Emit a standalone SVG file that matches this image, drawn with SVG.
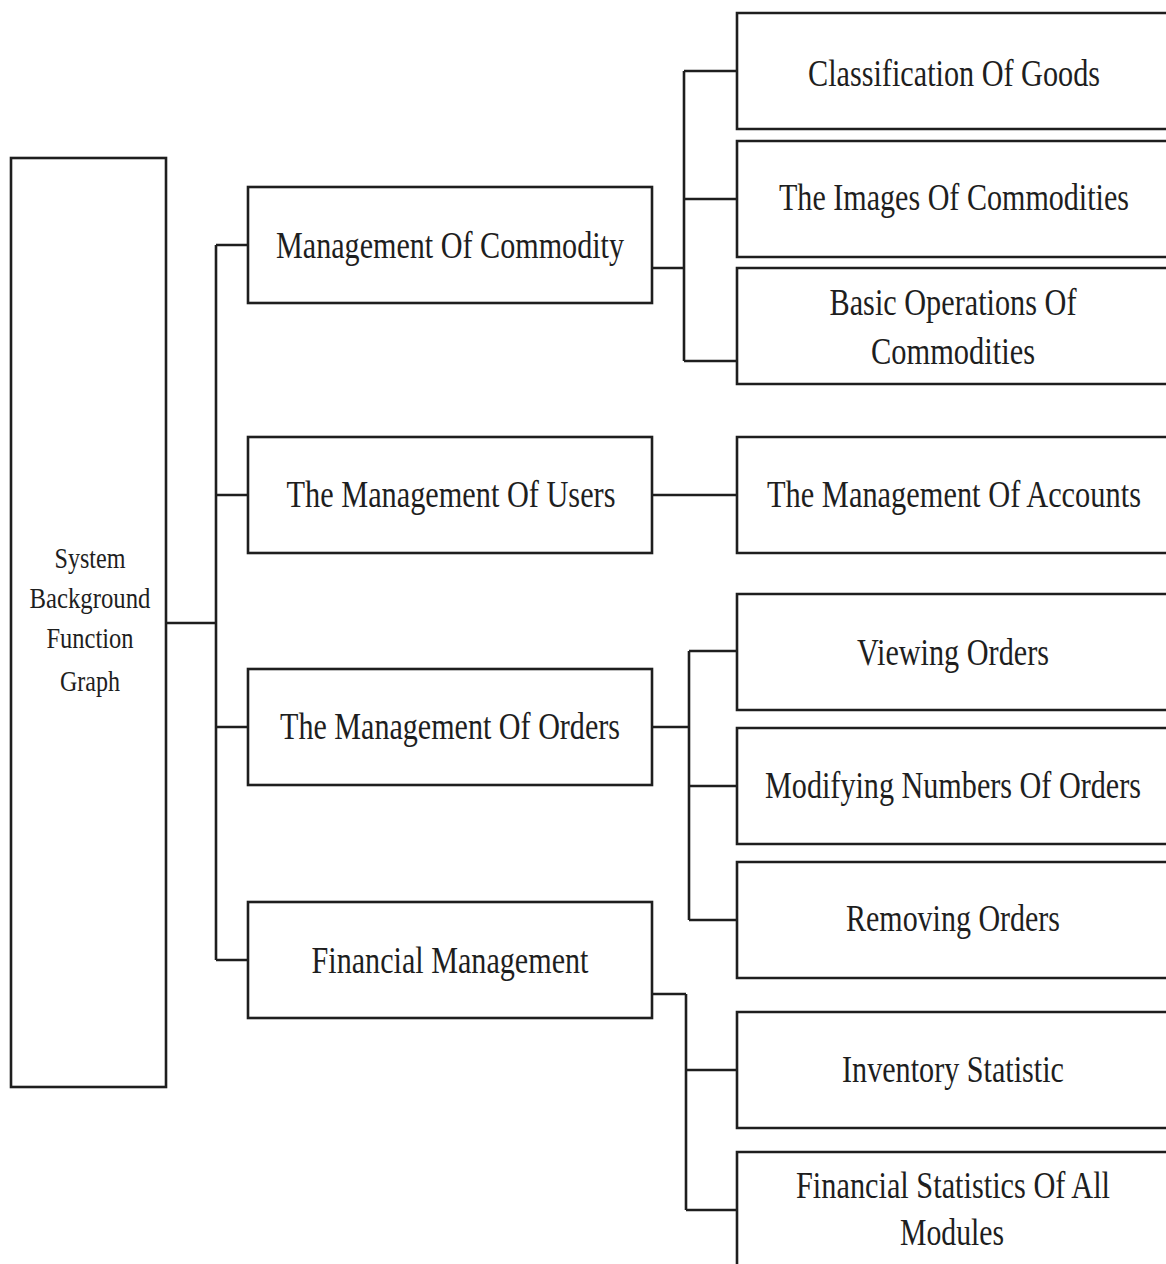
<svg xmlns="http://www.w3.org/2000/svg" width="1166" height="1264" viewBox="0 0 1166 1264">
<style>
  .box { fill: #ffffff; stroke: #1e1e1e; stroke-width: 2.6; }
  .conn { fill: none; stroke: #1e1e1e; stroke-width: 2.6; }
  .t { font-family: "Liberation Serif", "Times New Roman", serif; fill: #1e1e1e; text-anchor: middle; }
  .t1 { font-size: 38px; }
  .t0 { font-size: 29px; }
</style>
<rect x="0" y="0" width="1166" height="1264" fill="#ffffff"/>
<g id="connectors">
  <path class="conn" d="M166,623 H216 M216,245 V960 M216,245 H248 M216,495 H248 M216,727 H248 M216,960 H248"/>
  <path class="conn" d="M652,268 H684 M684,71 V361 M684,71 H737 M684,199 H737 M684,361 H737"/>
  <path class="conn" d="M652,495 H737"/>
  <path class="conn" d="M652,727 H689 M689,651 V920 M689,651 H737 M689,786 H737 M689,920 H737"/>
  <path class="conn" d="M652,994 H686 M686,994 V1210 M686,1070 H737 M686,1210 H737"/>
</g>
<g id="root">
  <rect class="box" x="11" y="158" width="155" height="929"/>
  <text class="t t0" x="90" y="568" textLength="71" lengthAdjust="spacingAndGlyphs">System</text>
  <text class="t t0" x="90" y="608" textLength="121" lengthAdjust="spacingAndGlyphs">Background</text>
  <text class="t t0" x="90" y="648" textLength="87" lengthAdjust="spacingAndGlyphs">Function</text>
  <text class="t t0" x="90" y="691" textLength="60" lengthAdjust="spacingAndGlyphs">Graph</text>
</g>
<g id="commodity">
  <rect class="box" x="248" y="187" width="404" height="116"/>
  <text class="t t1" x="450" y="258" textLength="348" lengthAdjust="spacingAndGlyphs">Management Of Commodity</text>
</g>
<g id="users">
  <rect class="box" x="248" y="437" width="404" height="116"/>
  <text class="t t1" x="451" y="507" textLength="329" lengthAdjust="spacingAndGlyphs">The Management Of Users</text>
</g>
<g id="orders">
  <rect class="box" x="248" y="669" width="404" height="116"/>
  <text class="t t1" x="450" y="739" textLength="340" lengthAdjust="spacingAndGlyphs">The Management Of Orders</text>
</g>
<g id="financial">
  <rect class="box" x="248" y="902" width="404" height="116"/>
  <text class="t t1" x="450" y="973" textLength="277" lengthAdjust="spacingAndGlyphs">Financial Management</text>
</g>
<g id="classification">
  <path class="box" d="M1166,13 H737 V129 H1166"/>
  <text class="t t1" x="954" y="86" textLength="292" lengthAdjust="spacingAndGlyphs">Classification Of Goods</text>
</g>
<g id="images">
  <path class="box" d="M1166,141 H737 V257 H1166"/>
  <text class="t t1" x="954" y="210" textLength="350" lengthAdjust="spacingAndGlyphs">The Images Of Commodities</text>
</g>
<g id="basic">
  <path class="box" d="M1166,268 H737 V384 H1166"/>
  <text class="t t1" x="953" y="315" textLength="247" lengthAdjust="spacingAndGlyphs">Basic Operations Of</text>
  <text class="t t1" x="953" y="364" textLength="164" lengthAdjust="spacingAndGlyphs">Commodities</text>
</g>
<g id="accounts">
  <path class="box" d="M1166,437 H737 V553 H1166"/>
  <text class="t t1" x="954" y="507" textLength="374" lengthAdjust="spacingAndGlyphs">The Management Of Accounts</text>
</g>
<g id="viewing">
  <path class="box" d="M1166,594 H737 V710 H1166"/>
  <text class="t t1" x="953" y="665" textLength="192" lengthAdjust="spacingAndGlyphs">Viewing Orders</text>
</g>
<g id="modifying">
  <path class="box" d="M1166,728 H737 V844 H1166"/>
  <text class="t t1" x="953" y="798" textLength="376" lengthAdjust="spacingAndGlyphs">Modifying Numbers Of Orders</text>
</g>
<g id="removing">
  <path class="box" d="M1166,862 H737 V978 H1166"/>
  <text class="t t1" x="953" y="931" textLength="214" lengthAdjust="spacingAndGlyphs">Removing Orders</text>
</g>
<g id="inventory">
  <path class="box" d="M1166,1012 H737 V1128 H1166"/>
  <text class="t t1" x="953" y="1082" textLength="222" lengthAdjust="spacingAndGlyphs">Inventory Statistic</text>
</g>
<g id="finstats">
  <path class="box" d="M1166,1152 H737 V1264"/>
  <text class="t t1" x="953" y="1198" textLength="314" lengthAdjust="spacingAndGlyphs">Financial Statistics Of All</text>
  <text class="t t1" x="952" y="1245" textLength="104" lengthAdjust="spacingAndGlyphs">Modules</text>
</g>
</svg>
